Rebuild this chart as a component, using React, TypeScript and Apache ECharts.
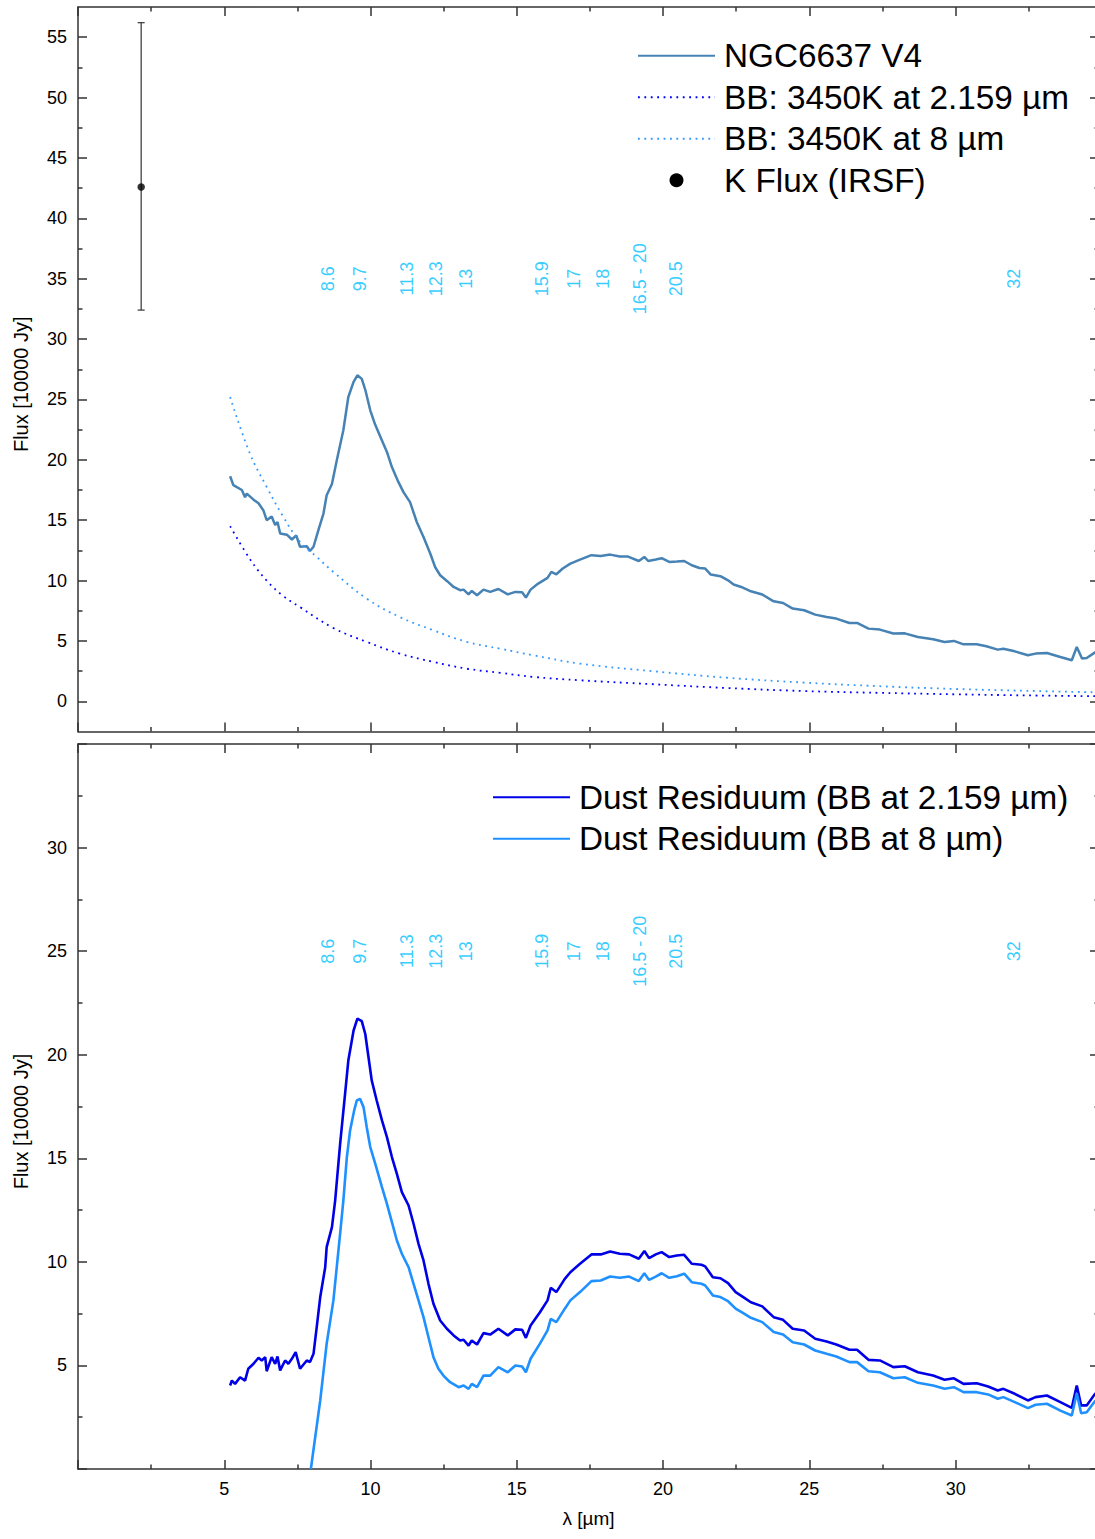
import React, { useEffect, useRef } from "react";
import * as echarts from "echarts";

const FONT = "'Liberation Sans', Arial, Helvetica, sans-serif";

// ---------- data ----------
const spectrum: [number, number][] = [
  [5.2, 18.64], [5.31, 17.9], [5.6, 17.5], [5.71, 16.9], [5.77, 17.2], [6.0, 16.7], [6.17, 16.4], [6.34, 15.8],
  [6.45, 15.0], [6.62, 15.3], [6.74, 14.6], [6.82, 14.85], [6.91, 13.9], [7.14, 13.8], [7.31, 13.4], [7.46, 13.75],
  [7.59, 12.8], [7.82, 12.84], [7.93, 12.45], [8.05, 12.8], [8.22, 14.2], [8.39, 15.55], [8.5, 17.07], [8.68, 18.0],
  [8.85, 20.0], [9.07, 22.45], [9.24, 25.2], [9.42, 26.45], [9.55, 27.0], [9.7, 26.7], [9.82, 25.8], [9.99, 24.1],
  [10.16, 22.9], [10.39, 21.6], [10.56, 20.65], [10.73, 19.4], [10.95, 18.17], [11.13, 17.3], [11.35, 16.5],
  [11.58, 14.85], [11.81, 13.6], [12.04, 12.24], [12.21, 11.1], [12.38, 10.44], [12.61, 9.97], [12.84, 9.47],
  [13.06, 9.2], [13.18, 9.25], [13.35, 8.86], [13.46, 9.14], [13.64, 8.78], [13.86, 9.25], [14.09, 9.06], [14.37, 9.3],
  [14.69, 8.86], [14.95, 9.06], [15.18, 9.03], [15.31, 8.59], [15.47, 9.25], [15.73, 9.75], [16.05, 10.22],
  [16.18, 10.72], [16.35, 10.52], [16.57, 11.0], [16.83, 11.4], [17.16, 11.74], [17.55, 12.1], [17.87, 12.04],
  [18.19, 12.15], [18.52, 11.99], [18.78, 12.0], [19.17, 11.62], [19.36, 11.96], [19.49, 11.62], [19.75, 11.74],
  [19.95, 11.85], [20.21, 11.54], [20.47, 11.57], [20.72, 11.62], [20.98, 11.27], [21.24, 11.04], [21.44, 10.99],
  [21.63, 10.5], [21.96, 10.36], [22.22, 10.02], [22.41, 9.67], [22.67, 9.47], [23.0, 9.11], [23.39, 8.84],
  [23.78, 8.28], [24.1, 8.14], [24.43, 7.68], [24.82, 7.54], [25.2, 7.18], [25.59, 6.99], [25.92, 6.85],
  [26.37, 6.49], [26.63, 6.49], [27.02, 6.02], [27.41, 5.94], [27.87, 5.61], [28.26, 5.63], [28.71, 5.33],
  [29.23, 5.14], [29.62, 4.91], [29.94, 5.0], [30.27, 4.72], [30.72, 4.72], [31.05, 4.56], [31.44, 4.28],
  [31.63, 4.36], [32.02, 4.14], [32.47, 3.81], [32.73, 3.95], [33.12, 4.0], [33.58, 3.67], [33.97, 3.4],
  [34.14, 4.5], [34.32, 3.54], [34.48, 3.59], [34.78, 4.08],
];

const bbK: [number, number][] = [
  [5.2, 14.5], [5.9, 11.7], [6.45, 10.0], [7.0, 8.75], [7.59, 7.8], [8.73, 6.07], [9.87, 4.92], [11.0, 3.95],
  [12.15, 3.26], [13.29, 2.7], [14.43, 2.36], [15.57, 2.02], [17.17, 1.74], [19.62, 1.42], [22.2, 1.1],
  [24.82, 0.85], [27.4, 0.7], [30.0, 0.58], [32.4, 0.49], [34.9, 0.42],
];

const bb8: [number, number][] = [
  [5.2, 25.2], [5.88, 20.5], [6.45, 17.75], [7.02, 15.27], [7.59, 13.2], [8.16, 11.96], [8.73, 10.71],
  [9.87, 8.5], [11.0, 6.98], [12.15, 5.88], [13.29, 4.92], [14.43, 4.36], [15.57, 3.81], [17.17, 3.12],
  [19.62, 2.5], [22.2, 1.95], [24.82, 1.55], [27.4, 1.25], [30.0, 1.02], [32.4, 0.87], [34.9, 0.74],
];

// K band photometry: [lambda, flux, lower, upper]
const kFlux: number[][] = [[2.159, 42.6, 32.4, 56.2]];

const residK: [number, number][] = [
  [5.2, 4.03], [5.26, 4.27], [5.37, 4.11], [5.54, 4.43], [5.71, 4.27], [5.82, 4.84], [6.0, 5.08], [6.17, 5.37],
  [6.28, 5.24], [6.4, 5.4], [6.45, 4.72], [6.62, 5.4], [6.74, 5.08], [6.82, 5.43], [6.91, 4.76], [7.08, 5.24],
  [7.19, 5.08], [7.31, 5.32], [7.44, 5.64], [7.59, 4.84], [7.82, 5.24], [7.93, 5.16], [8.05, 5.56], [8.16, 6.85],
  [8.28, 8.3], [8.45, 9.74], [8.5, 10.71], [8.68, 11.68], [8.79, 12.96], [8.96, 15.7], [9.13, 18.12], [9.24, 19.72],
  [9.42, 21.17], [9.55, 21.74], [9.7, 21.62], [9.82, 21.0], [9.93, 19.88], [10.04, 18.76], [10.21, 17.79],
  [10.39, 16.83], [10.56, 16.02], [10.73, 15.06], [10.9, 14.25], [11.07, 13.37], [11.3, 12.72], [11.47, 11.84],
  [11.64, 10.87], [11.81, 10.07], [11.98, 8.94], [12.15, 7.98], [12.38, 7.17], [12.61, 6.77], [12.84, 6.45],
  [13.06, 6.2], [13.18, 6.24], [13.35, 5.96], [13.46, 6.2], [13.64, 6.01], [13.86, 6.56], [14.09, 6.49],
  [14.37, 6.77], [14.69, 6.45], [14.95, 6.74], [15.18, 6.72], [15.31, 6.33], [15.47, 6.93], [15.79, 7.57],
  [16.05, 8.14], [16.16, 8.75], [16.35, 8.54], [16.64, 9.18], [16.83, 9.5], [17.16, 9.91], [17.55, 10.36],
  [17.87, 10.36], [18.19, 10.5], [18.52, 10.39], [18.84, 10.36], [19.17, 10.15], [19.36, 10.52], [19.52, 10.18],
  [19.75, 10.36], [19.95, 10.47], [20.21, 10.23], [20.47, 10.31], [20.72, 10.34], [20.98, 9.91], [21.31, 9.86],
  [21.44, 9.78], [21.7, 9.26], [21.96, 9.21], [22.22, 8.97], [22.48, 8.54], [22.74, 8.3], [23.0, 8.05],
  [23.39, 7.85], [23.78, 7.33], [24.1, 7.2], [24.43, 6.77], [24.82, 6.69], [25.2, 6.29], [25.59, 6.16],
  [25.92, 6.01], [26.37, 5.76], [26.63, 5.76], [27.02, 5.27], [27.41, 5.24], [27.87, 4.92], [28.26, 4.96],
  [28.71, 4.67], [29.23, 4.51], [29.62, 4.31], [29.94, 4.38], [30.27, 4.11], [30.72, 4.14], [31.11, 3.98],
  [31.44, 3.79], [31.63, 3.87], [32.02, 3.63], [32.47, 3.31], [32.73, 3.47], [33.12, 3.55], [33.58, 3.23],
  [33.97, 2.95], [34.14, 4.03], [34.29, 3.07], [34.48, 3.07], [34.78, 3.66],
];

const resid8: [number, number][] = [
  [7.96, 0], [8.28, 3.31], [8.5, 6.05], [8.73, 8.14], [8.96, 11.36], [9.07, 12.96], [9.19, 15.06], [9.3, 16.34],
  [9.44, 17.31], [9.53, 17.79], [9.64, 17.87], [9.76, 17.47], [9.87, 16.5], [9.99, 15.54], [10.16, 14.74],
  [10.39, 13.61], [10.56, 12.8], [10.73, 11.92], [10.9, 11.03], [11.07, 10.39], [11.3, 9.74], [11.47, 8.94],
  [11.64, 8.14], [11.81, 7.33], [11.98, 6.36], [12.15, 5.4], [12.32, 4.84], [12.49, 4.51], [12.72, 4.19],
  [13.01, 3.95], [13.18, 4.03], [13.35, 3.87], [13.46, 4.11], [13.64, 3.95], [13.86, 4.51], [14.09, 4.51],
  [14.37, 4.92], [14.69, 4.67], [14.95, 5.0], [15.18, 4.95], [15.31, 4.67], [15.47, 5.32], [15.79, 6.05],
  [16.05, 6.69], [16.16, 7.25], [16.35, 7.09], [16.64, 7.74], [16.83, 8.14], [17.16, 8.54], [17.55, 9.07],
  [17.87, 9.1], [18.19, 9.29], [18.52, 9.23], [18.84, 9.29], [19.17, 9.07], [19.36, 9.45], [19.52, 9.13],
  [19.75, 9.29], [19.95, 9.45], [20.21, 9.23], [20.47, 9.31], [20.72, 9.43], [20.98, 9.02], [21.31, 8.94],
  [21.44, 8.86], [21.7, 8.38], [21.96, 8.3], [22.22, 8.1], [22.48, 7.74], [22.74, 7.52], [23.0, 7.3],
  [23.39, 7.09], [23.78, 6.61], [24.1, 6.49], [24.43, 6.12], [24.82, 6.01], [25.2, 5.72], [25.59, 5.56],
  [25.92, 5.43], [26.37, 5.16], [26.63, 5.16], [27.02, 4.72], [27.41, 4.67], [27.87, 4.38], [28.26, 4.43],
  [28.71, 4.16], [29.23, 4.03], [29.62, 3.87], [29.94, 3.95], [30.27, 3.71], [30.72, 3.71], [31.11, 3.6],
  [31.44, 3.39], [31.63, 3.47], [32.02, 3.23], [32.47, 2.94], [32.73, 3.1], [33.12, 3.15], [33.58, 2.82],
  [33.97, 2.58], [34.14, 3.66], [34.29, 2.69], [34.48, 2.74], [34.78, 3.31],
];

const featureNames = ["8.6", "9.7", "11.3", "12.3", "13", "15.9", "17", "18", "16.5 - 20", "20.5", "32"];
const featurePositions = [8.55, 9.65, 11.25, 12.25, 13.25, 15.85, 16.95, 17.95, 19.2, 20.45, 32.0];

const topMajorTicks = [0, 5, 10, 15, 20, 25, 30, 35, 40, 45, 50, 55];
const topMinorTicks = [2.5, 7.5, 12.5, 17.5, 22.5, 27.5, 32.5, 37.5, 42.5, 47.5, 52.5];

const NAMES = {
  spec: "NGC6637 V4",
  bbK: "BB: 3450K at 2.159 µm",
  bb8: "BB: 3450K at 8 µm",
  k: "K Flux (IRSF)",
  rK: "Dust Residuum (BB at 2.159 µm)",
  r8: "Dust Residuum (BB at 8 µm)",
};

// ---------- layout constants ----------
const X_MAX = 34.9;
const AX = "#333";

const tickStyle = { color: AX, width: 1.5 };

function xAxisDef(gridIndex: number, position: "top" | "bottom", labels: boolean, extra: any = {}) {
  return {
    type: "value",
    gridIndex,
    position,
    min: 0,
    max: X_MAX,
    interval: 5,
    axisLine: { show: true, onZero: false, lineStyle: { color: AX, width: 1.5 } },
    axisTick: { show: true, inside: true, length: 9, lineStyle: tickStyle },
    minorTick: { show: true, splitNumber: 2, length: 4.5, lineStyle: tickStyle },
    axisLabel: {
      show: labels,
      margin: 11,
      fontSize: 18,
      color: "#000",
      fontFamily: FONT,
      showMinLabel: false,
      showMaxLabel: false,
    },
    splitLine: { show: false },
    minorSplitLine: { show: false },
    ...extra,
  };
}

function topY(position: "left" | "right", ticks: number[], len: number, labels: boolean, line: boolean, extra: any = {}) {
  return {
    type: "value",
    gridIndex: 0,
    position,
    min: -2.5,
    max: 57.5,
    axisLine: { show: line, onZero: false, lineStyle: { color: AX, width: 1.5 } },
    axisTick: { show: true, inside: true, length: len, customValues: ticks, lineStyle: tickStyle },
    axisLabel: labels
      ? { show: true, customValues: ticks, margin: 11, fontSize: 18, color: "#000", fontFamily: FONT }
      : { show: false },
    splitLine: { show: false },
    ...extra,
  };
}

function bottomY(position: "left" | "right", labels: boolean, extra: any = {}) {
  return {
    type: "value",
    gridIndex: 1,
    position,
    min: 0,
    max: 35,
    interval: 5,
    axisLine: { show: true, onZero: false, lineStyle: { color: AX, width: 1.5 } },
    axisTick: { show: true, inside: true, length: 9, lineStyle: tickStyle },
    minorTick: { show: true, splitNumber: 2, length: 4.5, lineStyle: tickStyle },
    axisLabel: {
      show: labels,
      margin: 11,
      fontSize: 18,
      color: "#000",
      fontFamily: FONT,
      showMinLabel: false,
      showMaxLabel: false,
    },
    splitLine: { show: false },
    minorSplitLine: { show: false },
    ...extra,
  };
}

const yName = {
  name: "Flux [10000 Jy]",
  nameLocation: "middle",
  nameGap: 47,
  nameTextStyle: { fontSize: 20, color: "#000", fontFamily: FONT, padding: [0, 30, 0, 0] },
};

function featureSeries(xi: number, yi: number, yVal: number) {
  return {
    type: "scatter",
    xAxisIndex: xi,
    yAxisIndex: yi,
    silent: true,
    symbol: "circle",
    symbolSize: 1,
    itemStyle: { color: "rgba(0,0,0,0)" },
    data: featurePositions.map((p, i) => ({ value: [p, yVal], name: featureNames[i] })),
    label: {
      show: true,
      formatter: "{b}",
      rotate: 90,
      position: "inside",
      align: "center",
      verticalAlign: "middle",
      color: "#00bfff",
      fontSize: 18,
      fontFamily: FONT,
    },
    z: 5,
  };
}

const legendBase = {
  orient: "vertical",
  itemWidth: 77,
  itemHeight: 14,
  itemGap: 0,
  padding: 0,
  selectedMode: false,
  itemStyle: { opacity: 0 },
  textStyle: { fontSize: 33.3, fontFamily: FONT, color: "#000", lineHeight: 41.5, padding: [0, 0, 0, 4] },
};

function buildOption(): any {
  return {
    animation: false,
    backgroundColor: "#fff",
    textStyle: { fontFamily: FONT },
    grid: [
      { left: 78, top: 7, width: 1021, height: 724.5, outerBoundsMode: "none", containLabel: false },
      { left: 78, top: 744, width: 1021, height: 725, outerBoundsMode: "none", containLabel: false },
    ],
    xAxis: [
      xAxisDef(0, "bottom", false),
      xAxisDef(0, "top", false),
      xAxisDef(1, "bottom", true, {
        name: "λ [µm]",
        nameLocation: "middle",
        nameGap: 40,
        nameTextStyle: { fontSize: 19, color: "#000", fontFamily: FONT },
      }),
      xAxisDef(1, "top", false),
    ],
    yAxis: [
      topY("left", topMajorTicks, 9, true, true, yName),
      topY("left", topMinorTicks, 4.5, false, false),
      topY("right", topMajorTicks, 9, false, true),
      topY("right", topMinorTicks, 4.5, false, false),
      bottomY("left", true, yName),
      bottomY("right", false),
    ],
    legend: [
      {
        ...legendBase,
        left: 637,
        top: 35,
        data: [
          NAMES.spec,
          NAMES.bbK,
          NAMES.bb8,
          { name: NAMES.k, itemStyle: { opacity: 1, color: "#000" } },
        ],
      },
      {
        ...legendBase,
        left: 492,
        top: 776.5,
        data: [NAMES.rK, NAMES.r8],
      },
    ],
    series: [
      {
        name: NAMES.spec,
        type: "line",
        xAxisIndex: 0,
        yAxisIndex: 0,
        data: spectrum,
        symbol: "none",
        lineStyle: { color: "#4682b4", width: 2.5 },
        itemStyle: { color: "#4682b4" },
        z: 3,
      },
      {
        name: NAMES.bbK,
        type: "line",
        xAxisIndex: 0,
        yAxisIndex: 0,
        data: bbK,
        symbol: "none",
        smooth: 0.4,
        lineStyle: { color: "#0000ff", width: 1.8, type: [1.8, 4.6] },
        itemStyle: { color: "#0000ff" },
      },
      {
        name: NAMES.bb8,
        type: "line",
        xAxisIndex: 0,
        yAxisIndex: 0,
        data: bb8,
        symbol: "none",
        smooth: 0.4,
        lineStyle: { color: "#3399ff", width: 1.8, type: [1.8, 4.6] },
        itemStyle: { color: "#3399ff" },
      },
      {
        name: NAMES.k,
        type: "scatter",
        xAxisIndex: 0,
        yAxisIndex: 0,
        data: kFlux.map((d) => [d[0], d[1]]),
        symbol: "circle",
        symbolSize: 7.5,
        itemStyle: { color: "#000" },
        z: 4,
      },
      {
        type: "custom",
        xAxisIndex: 0,
        yAxisIndex: 0,
        silent: true,
        data: kFlux.map((d) => [d[0], d[2], d[3]]),
        encode: { x: 0, y: [1, 2] },
        renderItem: (params: any, api: any) => {
          const x = api.value(0);
          const lo = api.coord([x, api.value(1)]);
          const hi = api.coord([x, api.value(2)]);
          const c = 3.5;
          const st = { stroke: "#333", lineWidth: 1.2 };
          return {
            type: "group",
            children: [
              { type: "line", shape: { x1: lo[0], y1: lo[1], x2: hi[0], y2: hi[1] }, style: st },
              { type: "line", shape: { x1: lo[0] - c, y1: lo[1], x2: lo[0] + c, y2: lo[1] }, style: st },
              { type: "line", shape: { x1: hi[0] - c, y1: hi[1], x2: hi[0] + c, y2: hi[1] }, style: st },
            ],
          };
        },
        z: 3,
      },
      featureSeries(0, 0, 35),
      {
        name: NAMES.rK,
        type: "line",
        xAxisIndex: 2,
        yAxisIndex: 4,
        data: residK,
        symbol: "none",
        lineStyle: { color: "#0000e6", width: 2.6 },
        itemStyle: { color: "#0000e6" },
        z: 3,
      },
      {
        name: NAMES.r8,
        type: "line",
        xAxisIndex: 2,
        yAxisIndex: 4,
        data: resid8,
        symbol: "none",
        lineStyle: { color: "#1e90ff", width: 2.6 },
        itemStyle: { color: "#1e90ff" },
        z: 3,
      },
      featureSeries(2, 4, 25),
    ],
  };
}

export default function App() {
  const ref = useRef<HTMLDivElement>(null);
  useEffect(() => {
    if (!ref.current) return;
    const chart = echarts.init(ref.current, null, { renderer: "svg" });
    chart.setOption(buildOption());
    return () => chart.dispose();
  }, []);
  return (
    <div
      ref={ref}
      style={{ position: "absolute", left: 0, top: 0, width: 1095, height: 1539, background: "#fff" }}
    />
  );
}
